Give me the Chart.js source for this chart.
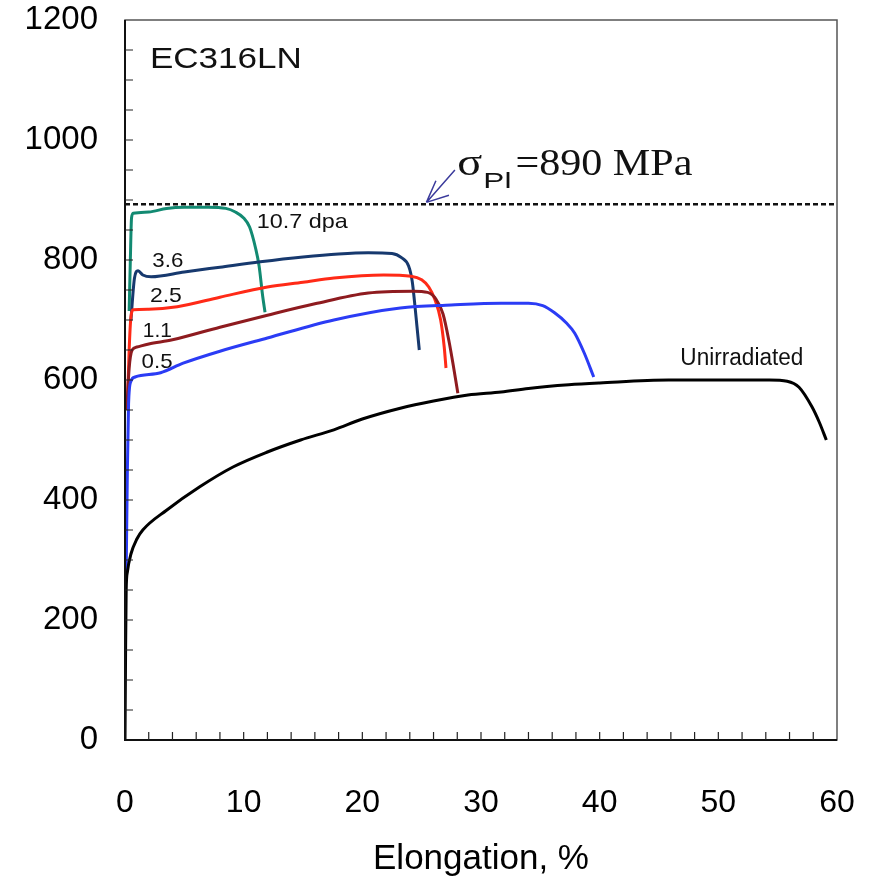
<!DOCTYPE html>
<html><head><meta charset="utf-8">
<script src="https://cdn.jsdelivr.net/npm/chart.js@4"></script>
<style>html,body{margin:0;padding:0;background:#fff}#wrap{width:873px;height:884px}</style>
</head><body><div id="wrap"><canvas id="c" width="873" height="884"></canvas></div>
<script>
// ---- data ----
const xTickValues = [0, 10, 20, 30, 40, 50, 60];
const yTickValues = [0, 200, 400, 600, 800, 1000, 1200];
const xMinorStep = 2;
const yMinorStep = 50;
const sigmaPl = 893;

const unirrX = [0, 0.05, 0.1, 0.2, 0.5, 1.0, 1.5, 3.5, 6.3, 9.1, 12, 14.8, 17.6, 20, 23.2, 26, 28.9, 31.7, 34, 37.4, 40, 45.8, 50, 54.3, 55.8, 56.8, 57.9, 58.5, 59.1];
const unirrY = [0, 150, 250, 280, 310, 335, 350, 383, 422, 455, 480, 500, 517, 535, 553, 565, 575, 580, 586, 592, 595, 600, 600, 600, 598, 588, 555, 530, 500];

const d05X = [0.1, 0.2, 0.3, 0.5, 0.85, 3, 4.9, 8, 12, 17.6, 23.2, 27.5, 31.7, 34.0, 35.2, 36.2, 37.2, 37.9, 38.7, 39.5];
const d05Y = [280, 450, 560, 598, 605, 612, 628, 648, 670, 700, 720, 725, 728, 728, 724, 712, 695, 678, 645, 605];

const d11X = [0.15, 0.35, 0.6, 1.0, 2, 4, 8, 12, 16, 20.5, 24.3, 25.5, 26.2, 26.8, 27.3, 27.7, 28.05];
const d11Y = [550, 620, 650, 655, 660, 667, 688, 708, 727, 745, 748, 746, 735, 710, 665, 620, 578];

const d25X = [0.2, 0.35, 0.5, 0.7, 2, 4.4, 8, 12, 15, 17.6, 21.8, 24.1, 25.0, 25.6, 26.1, 26.6, 26.9, 27.05];
const d25Y = [555, 650, 705, 717, 718, 722, 738, 755, 763, 770, 775, 773, 767, 755, 735, 700, 655, 620];

const d36X = [0.5, 0.8, 1.1, 1.5, 2.2, 5, 8, 11.4, 15, 18, 20.5, 22.5, 23.3, 23.9, 24.2, 24.4, 24.6, 24.8];
const d36Y = [700, 770, 782, 775, 772, 780, 788, 797, 805, 810, 812, 811, 804, 790, 765, 730, 690, 650];

const d107X = [0.35, 0.45, 0.55, 0.7, 2, 3.5, 5, 7, 8.5, 9.3, 10.0, 10.5, 11.0, 11.3, 11.6, 11.8];
const d107Y = [715, 800, 870, 878, 880, 886, 888, 888, 886, 880, 870, 855, 820, 790, 740, 713];

const pts = (xs, ys) => xs.map((x, i) => ({x, y: ys[i]}));

const FONT = '"Liberation Sans", Arial, Helvetica, sans-serif';
const SERIF = '"Liberation Serif", "Times New Roman", serif';

function line(label, xs, ys, color) {
  return {label, data: pts(xs, ys), borderColor: color, borderWidth: 3, showLine: true,
    pointRadius: 0, fill: false, cubicInterpolationMode: 'monotone'};
}

const datasets = [
  {label: 'sigmaPl', data: [{x: 0, y: sigmaPl}, {x: 60, y: sigmaPl}], borderColor: '#111', borderWidth: 2.5,
    borderDash: [5, 3], showLine: true, pointRadius: 0, fill: false},
  line('Unirradiated', unirrX, unirrY, '#000000'),
  line('0.5', d05X, d05Y, '#2b3cf5'),
  line('1.1', d11X, d11Y, '#8e1b1f'),
  line('2.5', d25X, d25Y, '#ff2a17'),
  line('3.6', d36X, d36Y, '#17396e'),
  line('10.7 dpa', d107X, d107Y, '#128a72'),
];

function fitText(ctx, text, x, y, font, width) {
  ctx.save();
  ctx.font = font;
  const w = ctx.measureText(text).width;
  ctx.translate(x, y);
  ctx.scale(width / w, 1);
  ctx.fillText(text, 0, 0);
  ctx.restore();
}

const decor = {
  id: 'decor',
  afterDatasetsDraw(chart) {
    const {ctx, chartArea: a, scales: {x: sx, y: sy}} = chart;
    ctx.save();
    // frame
    ctx.strokeStyle = '#555';
    ctx.lineWidth = 1.5;
    ctx.strokeRect(a.left, a.top, a.right - a.left, a.bottom - a.top);
    ctx.strokeStyle = '#111';
    ctx.lineWidth = 2;
    ctx.beginPath();
    ctx.moveTo(a.left, a.top); ctx.lineTo(a.left, a.bottom); ctx.lineTo(a.right, a.bottom);
    ctx.stroke();
    // inward minor ticks
    ctx.lineWidth = 1.2;
    ctx.strokeStyle = '#222';
    ctx.beginPath();
    for (let v = xMinorStep; v < 60; v += xMinorStep) {
      const px = sx.getPixelForValue(v);
      ctx.moveTo(px, a.bottom); ctx.lineTo(px, a.bottom - 8);
    }
    for (let v = yMinorStep; v < 1200; v += yMinorStep) {
      const py = sy.getPixelForValue(v);
      ctx.moveTo(a.left, py); ctx.lineTo(a.left + 8, py);
    }
    ctx.stroke();

    // texts
    ctx.fillStyle = '#111';
    ctx.textBaseline = 'alphabetic';
    ctx.textAlign = 'left';
    const X = v => sx.getPixelForValue(v), Y = v => sy.getPixelForValue(v);
    fitText(ctx, 'EC316LN', X(2.1), Y(1120), '29px ' + FONT, 152);
    fitText(ctx, '10.7 dpa', X(11.1), Y(853), '21px ' + FONT, 91);
    fitText(ctx, '3.6', X(2.3), Y(788), '21px ' + FONT, 31);
    fitText(ctx, '2.5', X(2.1), Y(730), '21px ' + FONT, 32);
    fitText(ctx, '1.1', X(1.5), Y(672), '21px ' + FONT, 29);
    fitText(ctx, '0.5', X(1.4), Y(620), '21px ' + FONT, 31);
    fitText(ctx, 'Unirradiated', X(46.8), Y(625), '23px ' + FONT, 123);
    fitText(ctx, 'σ', X(28.0), Y(942), '38px ' + SERIF, 25);
    fitText(ctx, 'Pl', X(30.2), Y(920), '22px ' + FONT, 28);
    fitText(ctx, '=890 MPa', X(32.9), Y(942), '38px ' + SERIF, 177);

    // arrow
    ctx.strokeStyle = '#3b3b9c';
    ctx.lineWidth = 1.5;
    const tx = X(25.4), ty = Y(896);
    ctx.beginPath();
    ctx.moveTo(X(27.8), Y(950)); ctx.lineTo(tx, ty);
    ctx.moveTo(tx, ty); ctx.lineTo(X(26.2), Y(932));
    ctx.moveTo(tx, ty); ctx.lineTo(X(27.3), Y(908));
    ctx.stroke();
    ctx.restore();
  }
};

function noPad(s) { s.paddingTop = 0; s.paddingBottom = 0; s.paddingLeft = 0; s.paddingRight = 0; }

new Chart(document.getElementById('c'), {
  type: 'scatter',
  data: {datasets},
  options: {
    responsive: false,
    animation: false,
    devicePixelRatio: 1,
    layout: {padding: {left: 0, right: 36, top: 20, bottom: 0}},
    plugins: {legend: {display: false}, tooltip: {enabled: false}},
    scales: {
      x: {
        type: 'linear', min: 0, max: 60,
        afterBuildTicks: s => { s.ticks = xTickValues.map(v => ({value: v})); },
        afterFit: s => { s.height = 144; noPad(s); },
        grid: {display: false, drawTicks: false},
        border: {display: false},
        ticks: {color: '#000', font: {family: FONT, size: 32}, padding: 44, maxRotation: 0,
          callback: v => String(v)},
        title: {display: true, text: 'Elongation, %', color: '#000', font: {family: FONT, size: 35}, padding: {top: 0, bottom: 4}}
      },
      y: {
        type: 'linear', min: 0, max: 1200,
        afterBuildTicks: s => { s.ticks = yTickValues.map(v => ({value: v})); },
        afterFit: s => { s.width = 125; noPad(s); },
        grid: {display: false, drawTicks: false},
        border: {display: false},
        ticks: {color: '#000', font: {family: FONT, size: 33}, padding: 27, callback: v => String(v)}
      }
    }
  },
  plugins: [decor]
});
</script>
</body></html>
